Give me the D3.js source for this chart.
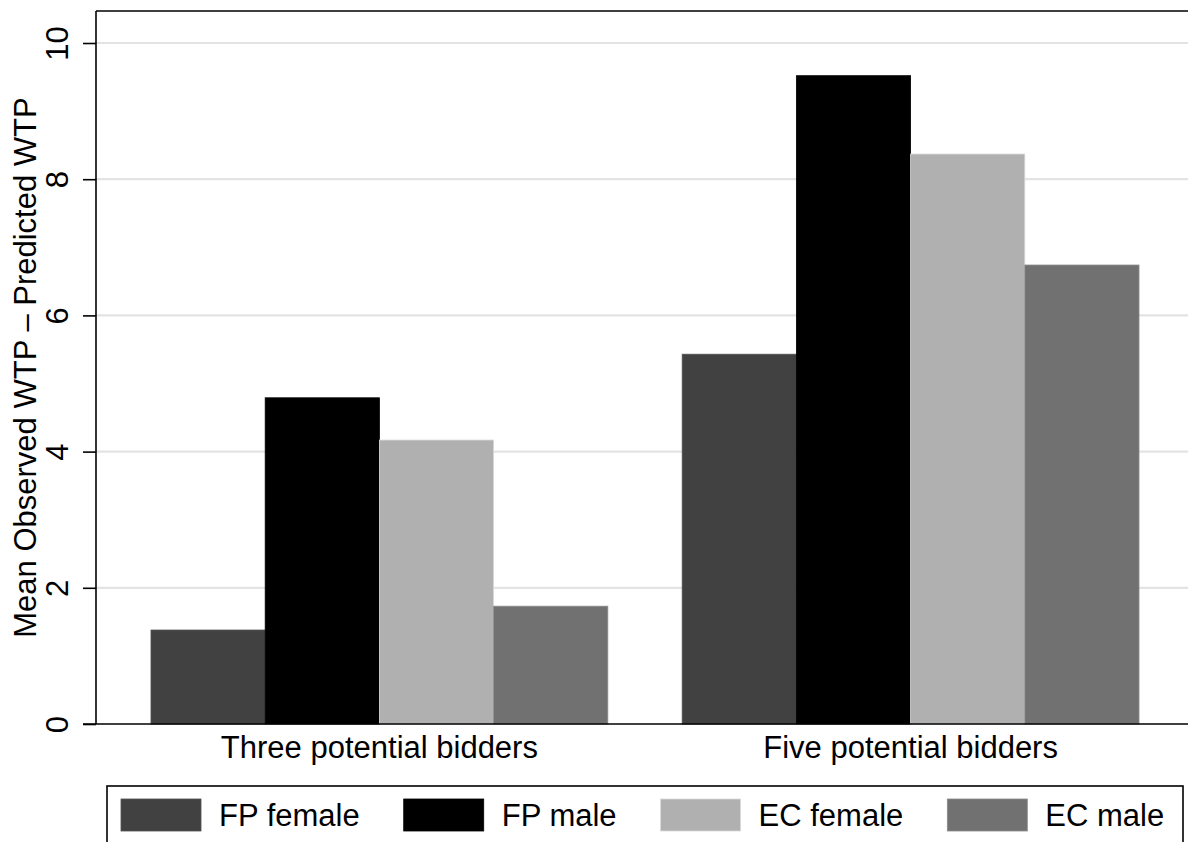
<!DOCTYPE html>
<html>
<head>
<meta charset="utf-8">
<script src="https://cdn.jsdelivr.net/npm/d3@7/dist/d3.min.js"></script>
<style>
  html, body { margin: 0; padding: 0; background: #fff; }
  svg { display: block; }
  text { font-family: "Liberation Sans", Arial, Helvetica, sans-serif; fill: #000; }
</style>
</head>
<body>
<svg id="chart" width="1188" height="842"></svg>
<script>
// ---- data ----
const categories = ["Three potential bidders", "Five potential bidders"];
const seriesNames = ["FP female", "FP male", "EC female", "EC male"];
const seriesColors = ["#414141", "#000000", "#b0b0b0", "#717171"];
const fpFemale = [1.38, 5.43];
const fpMale = [4.79, 9.52];
const ecFemale = [4.17, 8.37];
const ecMale = [1.73, 6.74];
const yTicks = [0, 2, 4, 6, 8, 10];
const yTitle = "Mean Observed WTP \u2013 Predicted WTP";

const seriesValues = [fpFemale, fpMale, ecFemale, ecMale];

// ---- layout ----
const svg = d3.select("#chart");
const W = 1188, H = 842;
const pLeft = 96, pRight = 1194, pTop = 11, pBottom = 724;
const fontSize = 31;

const y = d3.scaleLinear().domain([0, 10.47]).range([pBottom, pTop]);
const x0 = d3.scaleBand().domain(categories).range([pLeft, pRight])
  .paddingInner(0.14).paddingOuter(0.1035);
const x1 = d3.scaleBand().domain(seriesNames).range([0, x0.bandwidth()]).padding(0);
const color = d3.scaleOrdinal().domain(seriesNames).range(seriesColors);

// gridlines
svg.append("g").selectAll("line")
  .data(yTicks.filter(d => d > 0))
  .join("line")
  .attr("x1", pLeft).attr("x2", W)
  .attr("y1", d => y(d)).attr("y2", d => y(d))
  .attr("stroke", "#e3e3e3").attr("stroke-width", 2.2);

// bars
const rows = [];
categories.forEach((c, ci) => {
  seriesNames.forEach((s, si) => rows.push({cat: c, series: s, value: seriesValues[si][ci]}));
});
svg.append("g").selectAll("rect")
  .data(rows)
  .join("rect")
  .attr("x", d => x0(d.cat) + x1(d.series))
  .attr("width", x1.bandwidth())
  .attr("y", d => y(d.value))
  .attr("height", d => y(0) - y(d.value))
  .attr("fill", d => color(d.series))
  .attr("stroke", d => d3.color(color(d.series)).brighter(0.6).formatHex())
  .attr("stroke-width", 0.8);

// top border
svg.append("line").attr("x1", pLeft).attr("x2", W).attr("y1", pTop).attr("y2", pTop)
  .attr("stroke", "#000").attr("stroke-width", 1.6);

// y axis
const yAxis = svg.append("g").attr("transform", `translate(${pLeft},0)`)
  .call(d3.axisLeft(y).tickValues(yTicks).tickSize(13).tickSizeOuter(0).tickPadding(0).tickFormat(d3.format("d")));
yAxis.select(".domain").attr("stroke", "#000").attr("stroke-width", 1.6).attr("d", `M0,${pBottom}V${pTop}`);
yAxis.selectAll(".tick line").attr("stroke", "#000").attr("stroke-width", 1.6);
yAxis.selectAll(".tick text")
  .attr("x", 0).attr("y", 0).attr("dy", null)
  .attr("text-anchor", "middle")
  .attr("transform", "translate(-28,0) rotate(-90)")
  .style("font-size", fontSize + "px")
  .style("font-family", '"Liberation Sans", Arial, sans-serif')
  .attr("fill", "#000");

// x axis
const xAxis = svg.append("g").attr("transform", `translate(0,${pBottom})`)
  .call(d3.axisBottom(x0).tickSize(0).tickSizeOuter(0).tickPadding(0));
xAxis.select(".domain").attr("stroke", "#000").attr("stroke-width", 1.6).attr("d", `M${pLeft - 13},0H${W}`);
xAxis.selectAll(".tick text")
  .attr("y", 34).attr("dy", null)
  .style("font-size", fontSize + "px")
  .style("font-family", '"Liberation Sans", Arial, sans-serif')
  .attr("fill", "#000");

// y title
svg.append("text")
  .attr("transform", `translate(36,${(pTop + pBottom) / 2}) rotate(-90)`)
  .attr("text-anchor", "middle")
  .style("font-size", fontSize + "px")
  .text(yTitle);

// legend
const lg = svg.append("g");
lg.append("rect").attr("x", 107).attr("y", 786).attr("width", 1183 - 107).attr("height", 100)
  .attr("fill", "#fff").attr("stroke", "#000").attr("stroke-width", 1.6);
let lx = 121;
seriesNames.forEach((s) => {
  lg.append("rect").attr("x", lx).attr("y", 799).attr("width", 80).attr("height", 32)
    .attr("fill", color(s))
    .attr("stroke", d3.color(color(s)).brighter(0.6).formatHex()).attr("stroke-width", 0.8);
  const t = lg.append("text").attr("x", lx + 98).attr("y", 826)
    .style("font-size", fontSize + "px").text(s);
  lx = lx + 98 + t.node().getComputedTextLength() + 44;
});
</script>
</body>
</html>
